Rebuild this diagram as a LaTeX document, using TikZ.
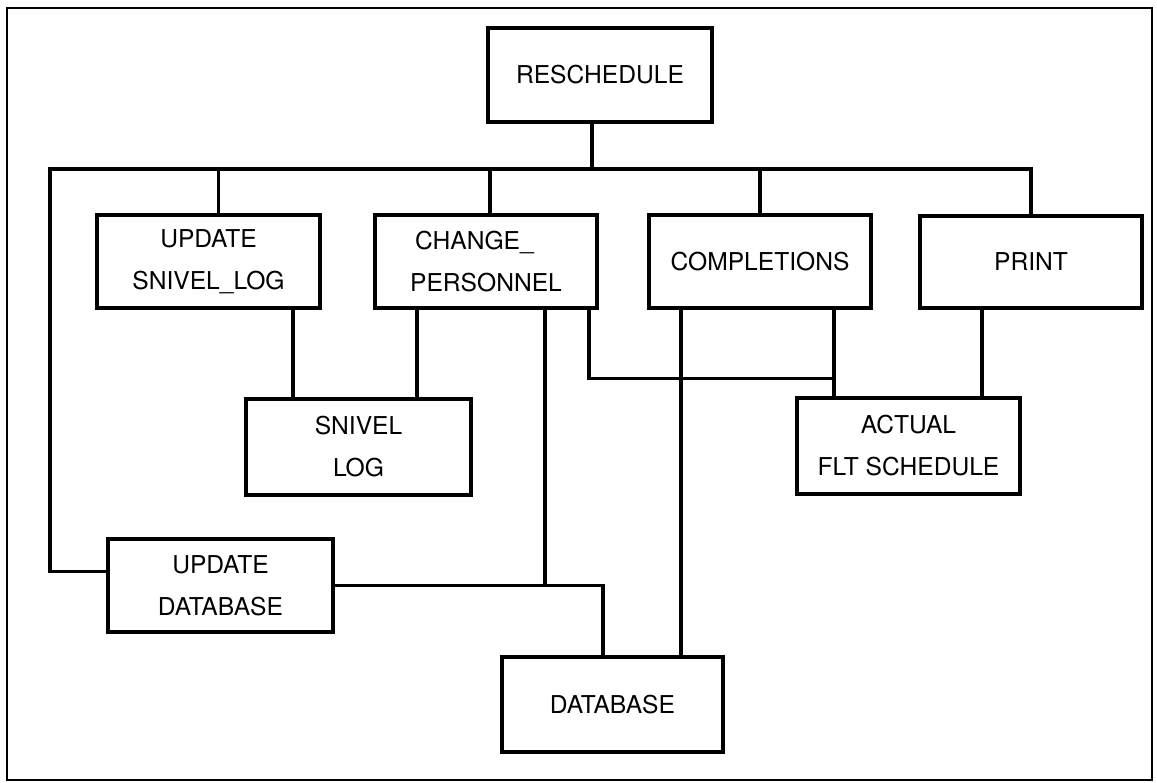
\documentclass[tikz,border=0pt]{standalone}
\usepackage{fontspec}
\setmainfont{TeX Gyre Heros}
\begin{document}
\begin{tikzpicture}[x=1pt,y=-1pt,line width=3.2pt,
  box/.style={draw,rectangle,inner sep=0pt,align=center,
    font=\fontsize{24.6pt}{42pt}\selectfont}]
\useasboundingbox (0,0) rectangle (1157,783);
\draw[line width=2.8pt] (7,8) rectangle (1152,780);

\node[box,minimum width=224pt,minimum height=94pt] (resched) at (600,75) {RESCHEDULE};
\node[box,minimum width=223pt,minimum height=93pt] (usl) at (208.5,261.5) {UPDATE\\SNIVEL\_LOG};
\node[box,align=left,minimum width=222pt,minimum height=93pt] (chp) at (486,261.5) {\hspace{5pt}CHANGE\_\\PERSONNEL};
\node[box,minimum width=222pt,minimum height=93pt] (comp) at (760,261.5) {COMPLETIONS};
\node[box,minimum width=222pt,minimum height=92pt] (print) at (1031,262) {PRINT};
\node[box,minimum width=225pt,minimum height=96pt] (snl) at (358.5,447) {SNIVEL\\LOG};
\node[box,minimum width=223pt,minimum height=96pt] (act) at (908.5,446) {ACTUAL\\FLT SCHEDULE};
\node[box,minimum width=225pt,minimum height=93pt] (udb) at (220.5,585.5) {UPDATE\\DATABASE};
\node[box,minimum width=221pt,minimum height=95pt] (db) at (612.5,704.5) {DATABASE};

\coordinate (busL) at (50,169);

% bus from RESCHEDULE
\draw ([xshift=-8pt]resched.south) -- ([xshift=-8pt]resched.south |- busL);
\draw (print.north) |- (busL) |- ([yshift=-34pt]udb.north west);
\draw ([xshift=10pt]usl.north) -- ([xshift=10pt]usl.north |- busL);
\draw ([xshift=4pt]chp.north) -- ([xshift=4pt]chp.north |- busL);
\draw (comp.north) -- (comp.north |- busL);

% to SNIVEL LOG
\draw ([xshift=84.5pt]usl.south) -- ([xshift=84.5pt]usl.south |- snl.north);
\draw ([xshift=-69pt]chp.south) -- ([xshift=-69pt]chp.south |- snl.north);

% to DATABASE
\draw (udb.east) -| ([xshift=-9.5pt]db.north);
\draw ([xshift=59pt]chp.south) -- ([xshift=59pt]chp.south |- udb.east);
\draw ([xshift=-79pt]comp.south) -- ([xshift=-79pt]comp.south |- db.north);

% to ACTUAL FLT SCHEDULE
\draw ([xshift=103pt]chp.south) |- ([xshift=74pt,yshift=-69pt]comp.south);
\draw ([xshift=74pt]comp.south) -- ([xshift=74pt]comp.south |- act.north);
\draw ([xshift=-49pt]print.south) -- ([xshift=-49pt]print.south |- act.north);
\end{tikzpicture}
\end{document}
